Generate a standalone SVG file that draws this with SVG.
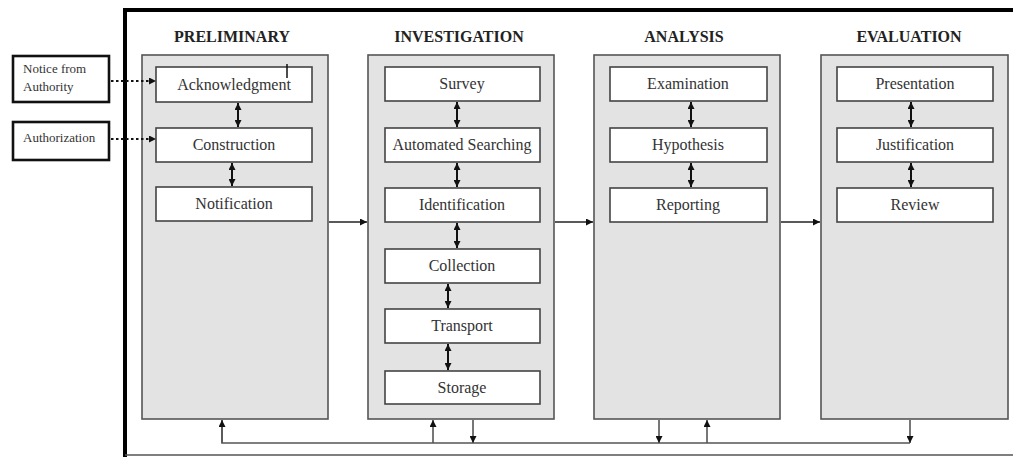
<svg xmlns="http://www.w3.org/2000/svg" width="1013" height="457" viewBox="0 0 1013 457">
<style>
.phase{fill:#e3e3e3;stroke:#555;stroke-width:1.6}
.step{fill:#fff;stroke:#444;stroke-width:1.6}
.ext{fill:#fff;stroke:#111;stroke-width:2.6}
.title{font-family:"Liberation Serif","Times New Roman",serif;font-weight:bold;font-size:16px;fill:#222;text-anchor:middle}
.lbl{font-family:"Liberation Serif","Times New Roman",serif;font-size:16px;fill:#333;text-anchor:middle}
.small{font-family:"Liberation Serif","Times New Roman",serif;font-size:13px;fill:#333}
.conn{stroke:#222;stroke-width:1.6;fill:none}
.dbl{stroke:#111;stroke-width:2;fill:none;marker-start:url(#ah);marker-end:url(#ah)}
.fb{stroke:#555;stroke-width:1.6;fill:none}
.dot{stroke:#111;stroke-width:2.2;stroke-dasharray:2.5,2.5;fill:none;marker-end:url(#ah)}
</style>
<defs>
<marker id="ah" viewBox="0 0 10 10" refX="10" refY="5" markerWidth="7" markerHeight="7" markerUnits="userSpaceOnUse" orient="auto-start-reverse">
<path d="M0,0 L10,5 L0,10 z" fill="#111"/>
</marker>
</defs>
<rect width="1013" height="457" fill="#fff"/>
<g id="frame">
<line x1="125" y1="10" x2="1013" y2="10" stroke="#000" stroke-width="4"/>
<line x1="125" y1="8" x2="125" y2="457" stroke="#000" stroke-width="4"/>
<line x1="125" y1="455" x2="1013" y2="455" stroke="#555" stroke-width="1.6"/>
</g>
<g id="notice">
<rect class="ext" x="13" y="56" width="96" height="46"/>
<text class="small" x="23" y="73">Notice from</text>
<text class="small" x="23" y="91">Authority</text>
</g>
<g id="authorization">
<rect class="ext" x="13" y="122" width="96" height="38"/>
<text class="small" x="23" y="142" font-size="12">Authorization</text>
</g>
<g id="preliminary">
<rect class="phase" x="142" y="55" width="186" height="364"/>
<text class="title" x="232" y="42">PRELIMINARY</text>
</g>
<g id="investigation">
<rect class="phase" x="368" y="55" width="186" height="364"/>
<text class="title" x="459" y="42">INVESTIGATION</text>
</g>
<g id="analysis">
<rect class="phase" x="594" y="55" width="186" height="364"/>
<text class="title" x="684" y="42">ANALYSIS</text>
</g>
<g id="evaluation">
<rect class="phase" x="821" y="55" width="187" height="364"/>
<text class="title" x="909" y="42">EVALUATION</text>
</g>
<g id="acknowledgment"><rect class="step" x="156" y="67" width="156" height="35"/><text class="lbl" x="234" y="90">Acknowledgment</text></g>
<g id="construction"><rect class="step" x="156" y="128" width="156" height="34"/><text class="lbl" x="234" y="150">Construction</text></g>
<g id="notification"><rect class="step" x="156" y="187" width="156" height="34"/><text class="lbl" x="234" y="209">Notification</text></g>
<g id="survey"><rect class="step" x="385" y="67" width="155" height="34"/><text class="lbl" x="462" y="89">Survey</text></g>
<g id="automated-searching"><rect class="step" x="385" y="128" width="155" height="34"/><text class="lbl" x="462" y="150" font-size="15">Automated Searching</text></g>
<g id="identification"><rect class="step" x="385" y="188" width="155" height="34"/><text class="lbl" x="462" y="210">Identification</text></g>
<g id="collection"><rect class="step" x="385" y="249" width="155" height="34"/><text class="lbl" x="462" y="271">Collection</text></g>
<g id="transport"><rect class="step" x="385" y="309" width="155" height="34"/><text class="lbl" x="462" y="331">Transport</text></g>
<g id="storage"><rect class="step" x="385" y="371" width="155" height="33"/><text class="lbl" x="462" y="393">Storage</text></g>
<g id="examination"><rect class="step" x="610" y="67" width="157" height="34"/><text class="lbl" x="688" y="89">Examination</text></g>
<g id="hypothesis"><rect class="step" x="610" y="128" width="157" height="34"/><text class="lbl" x="688" y="150">Hypothesis</text></g>
<g id="reporting"><rect class="step" x="610" y="188" width="157" height="34"/><text class="lbl" x="688" y="210">Reporting</text></g>
<g id="presentation"><rect class="step" x="837" y="67" width="156" height="34"/><text class="lbl" x="915" y="89">Presentation</text></g>
<g id="justification"><rect class="step" x="837" y="128" width="156" height="34"/><text class="lbl" x="915" y="150">Justification</text></g>
<g id="review"><rect class="step" x="837" y="188" width="156" height="34"/><text class="lbl" x="915" y="210">Review</text></g>
<g id="connectors">
<line class="dot" x1="111" y1="81" x2="156" y2="81"/>
<line class="dot" x1="111" y1="139" x2="156" y2="139"/>
<line x1="287" y1="64" x2="287" y2="78" stroke="#111" stroke-width="1.5"/>
<line class="dbl" x1="238" y1="103" x2="238" y2="127"/>
<line class="dbl" x1="232" y1="163" x2="232" y2="186"/>
<line class="dbl" x1="457" y1="102" x2="457" y2="127"/>
<line class="dbl" x1="457" y1="163" x2="457" y2="187"/>
<line class="dbl" x1="457" y1="223" x2="457" y2="248"/>
<line class="dbl" x1="448" y1="284" x2="448" y2="308"/>
<line class="dbl" x1="448" y1="344" x2="448" y2="370"/>
<line class="dbl" x1="691" y1="102" x2="691" y2="127"/>
<line class="dbl" x1="691" y1="163" x2="691" y2="187"/>
<line class="dbl" x1="911" y1="102" x2="911" y2="127"/>
<line class="dbl" x1="911" y1="163" x2="911" y2="187"/>
<line class="conn" x1="329" y1="222" x2="367" y2="222" marker-end="url(#ah)"/>
<line class="conn" x1="555" y1="222" x2="593" y2="222" marker-end="url(#ah)"/>
<line class="conn" x1="781" y1="222" x2="820" y2="222" marker-end="url(#ah)"/>
<polyline class="fb" points="222,420 222,443 910,443"/>
<line class="fb" x1="222" y1="443" x2="222" y2="420" marker-end="url(#ah)"/>
<line class="fb" x1="433" y1="443" x2="433" y2="420" marker-end="url(#ah)"/>
<line class="fb" x1="473" y1="420" x2="473" y2="443" marker-end="url(#ah)"/>
<line class="fb" x1="659" y1="420" x2="659" y2="443" marker-end="url(#ah)"/>
<line class="fb" x1="707" y1="443" x2="707" y2="420" marker-end="url(#ah)"/>
<line class="fb" x1="910" y1="420" x2="910" y2="443" marker-end="url(#ah)"/>
</g>
</svg>
